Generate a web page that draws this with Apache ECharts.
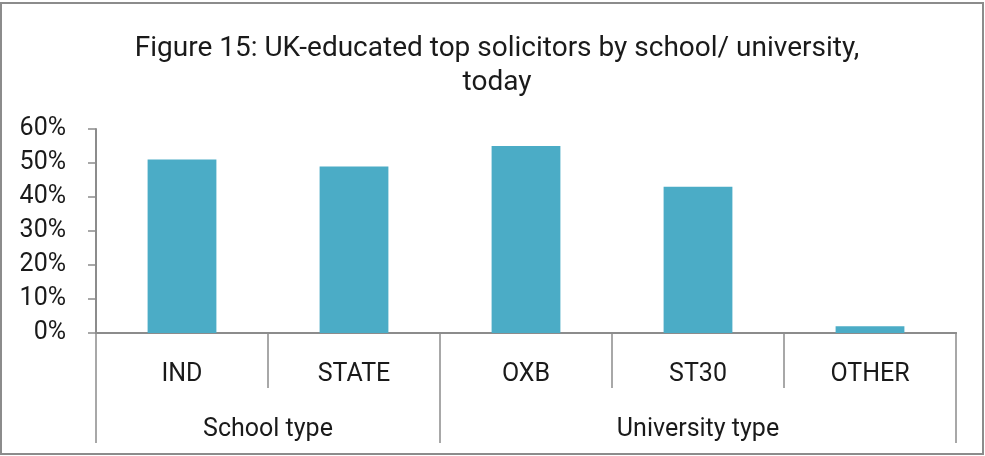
<!DOCTYPE html>
<html>
<head lang="en">
    <meta charset="UTF-8">
    <title>Figure 15</title>
    <style>
        html, body { margin: 0; padding: 0; background: #fff; }
        #chart { width: 985px; height: 456px; }
    </style>
</head>
<body>
<div id="chart"></div>
<script src="https://cdn.jsdelivr.net/npm/echarts@6/dist/echarts.min.js"></script>
<script>
    // data
    var categories = ['IND', 'STATE', 'OXB', 'ST30', 'OTHER'];
    var values = [51, 49, 55, 43, 2];
    // group labels laid out on an 11-point axis (spacing = half a category)
    var groupLabels = ['', '', 'School type', '', '', '', '', 'University type', '', '', ''];
    var groupEdges = [0, 4, 10];
    var yTicks = [0, 10, 20, 30, 40, 50, 60];

    var font = 'Roboto, "Noto Sans", sans-serif';
    var axisColor = '#8c8c8c';
    var textColor = '#1a1a1a';

    var chart = echarts.init(document.getElementById('chart'));
    var option = {
        animation: false,
        backgroundColor: '#fff',
        textStyle: { fontFamily: font },
        graphic: [{
            type: 'rect',
            shape: { x: 1, y: 3, width: 982, height: 451 },
            style: { fill: 'none', stroke: axisColor, lineWidth: 2 }
        }],
        title: {
            text: 'Figure 15: UK-educated top solicitors by school/ university,\ntoday',
            left: 492,
            top: 27,
            textAlign: 'center',
            textStyle: {
                fontFamily: font,
                fontSize: 28,
                fontWeight: 'normal',
                color: textColor,
                lineHeight: 34
            }
        },
        grid: { left: 96, right: 29, top: 129, bottom: 123 },
        xAxis: [{
            type: 'category',
            data: categories,
            position: 'bottom',
            axisLine: { lineStyle: { color: axisColor, width: 2 } },
            axisTick: { show: true, length: 55, lineStyle: { color: axisColor, width: 1.5 } },
            axisLabel: { color: textColor, fontSize: 25, margin: 29, fontFamily: font }
        }, {
            type: 'category',
            data: groupLabels,
            boundaryGap: false,
            position: 'bottom',
            axisLine: { lineStyle: { color: axisColor, width: 2 } },
            axisTick: {
                show: true,
                length: 110,
                interval: function (i) { return groupEdges.indexOf(i) >= 0; },
                lineStyle: { color: axisColor, width: 1.5 }
            },
            axisLabel: { interval: 0, color: textColor, fontSize: 25, margin: 84, fontFamily: font }
        }],
        yAxis: {
            type: 'value',
            min: yTicks[0],
            max: yTicks[yTicks.length - 1],
            interval: 10,
            splitLine: { show: false },
            axisLine: { show: true, lineStyle: { color: axisColor, width: 2 } },
            axisTick: { show: true, length: 8, lineStyle: { color: axisColor, width: 1.5 } },
            axisLabel: { color: textColor, fontSize: 25, margin: 30, fontFamily: font, formatter: '{value}%' }
        },
        series: [{
            type: 'bar',
            xAxisIndex: 0,
            data: values,
            barCategoryGap: '60%',
            itemStyle: { color: '#4bacc6' }
        }]
    };
    chart.setOption(option);
</script>
</body>
</html>
